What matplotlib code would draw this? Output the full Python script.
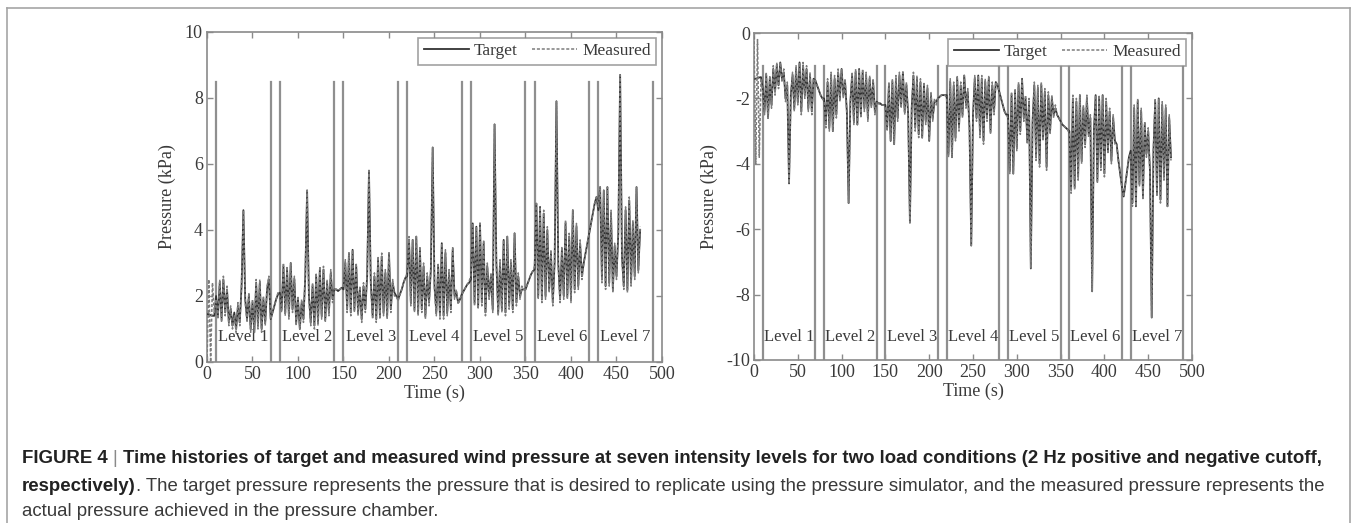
import numpy as np
import matplotlib.pyplot as plt
from matplotlib.lines import Line2D

plt.rcParams["axes.unicode_minus"] = False

# time grid, 2 s steps (0 .. 476 s)
time_s = np.arange(0, 478, 2)

# level boundaries (s) and level names
level_edges = [10, 70, 80, 140, 150, 210, 220, 280, 290, 350, 360, 420, 430, 490]
level_names = ["Level 1", "Level 2", "Level 3", "Level 4", "Level 5", "Level 6", "Level 7"]
level_mid = [40, 110, 180, 250, 320, 390, 460]

# ---- positive cutoff (left panel), kPa ----
pos_tgt_start = [1.45, 1.45, 1.42, 1.40, 1.40]
pos_tgt_lv1 = [2.0, 1.4, 2.4, 1.3, 2.5, 1.5, 2.2, 1.2, 1.6, 1.1,
               1.5, 1.0, 1.7, 1.2, 2.3, 4.6, 1.9, 1.3, 2.0, 1.0,
               1.8, 0.9, 2.4, 1.1, 2.4, 1.0, 1.9, 1.2, 2.2, 2.5,
               1.3, 1.5, 1.7, 1.9, 2.05]
pos_tgt_lv2 = [2.1, 1.6, 2.9, 1.5, 2.8, 1.4, 3.0, 1.6, 2.5, 1.2,
               1.9, 1.0, 1.8, 1.3, 2.6, 5.2, 2.0, 1.2, 2.3, 1.1,
               2.6, 1.2, 2.8, 1.4, 2.8, 1.3, 2.4, 1.5, 2.7, 1.9,
               2.2, 2.2, 2.15, 2.2, 2.25]
pos_tgt_lv3 = [2.2, 3.0, 1.6, 3.3, 1.5, 3.4, 1.6, 2.9, 1.5, 2.2,
               1.3, 2.3, 1.6, 2.6, 5.8, 2.4, 1.4, 2.6, 1.3, 3.1,
               1.4, 3.2, 1.5, 2.7, 1.4, 3.3, 1.6, 2.4, 2.1, 2.0,
               1.9, 2.05, 2.2, 2.4, 2.55]
pos_tgt_lv4 = [2.6, 3.7, 1.8, 3.7, 1.6, 3.8, 1.5, 3.4, 1.6, 2.9,
               1.4, 2.6, 1.8, 2.8, 6.5, 2.3, 1.5, 2.9, 1.4, 3.6,
               1.4, 3.3, 1.5, 2.7, 1.6, 3.4, 2.0, 2.1, 1.8, 1.9,
               2.05, 2.15, 2.25, 2.35, 2.4]
pos_tgt_lv5 = [2.5, 4.2, 1.8, 4.1, 1.7, 4.2, 1.8, 3.6, 1.5, 2.9,
               2.0, 2.6, 1.6, 7.2, 3.0, 1.5, 3.0, 1.6, 3.7, 1.5,
               3.8, 1.7, 3.0, 1.6, 3.9, 1.8, 2.6, 2.0, 2.2, 2.2,
               2.2, 2.35, 2.5, 2.65, 2.75]
pos_tgt_lv6 = [2.8, 4.8, 2.0, 4.7, 1.9, 4.5, 2.0, 4.0, 2.2, 3.3,
               1.8, 3.0, 7.9, 3.0, 1.9, 3.4, 2.0, 4.2, 2.0, 3.8,
               1.9, 4.6, 2.2, 4.1, 2.3, 3.6, 2.6, 3.0, 3.3, 3.6,
               3.9, 4.2, 4.5, 4.8, 5.0]
pos_tgt_lv7 = [4.6, 5.3, 2.5, 5.2, 2.3, 5.3, 2.4, 4.5, 2.2, 3.5,
               2.6, 3.9, 8.7, 3.2, 2.3, 4.6, 2.2, 4.9, 2.4, 4.2,
               2.6, 5.3, 2.8, 4.0]

pos_meas_start = [0.0, 2.5, 0.0, 2.4, 1.5]
pos_meas_lv1 = [1.9, 1.3, 2.5, 1.2, 2.6, 1.4, 2.3, 1.1, 1.7, 1.0,
                1.4, 0.9, 1.8, 1.1, 2.4, 4.6, 1.8, 1.2, 2.1, 0.9,
                1.9, 0.9, 2.5, 1.0, 2.5, 0.9, 2.0, 1.1, 2.3, 2.6,
                1.3, 1.5, 1.7, 1.9, 2.1]
pos_meas_lv2 = [2.0, 1.5, 3.0, 1.4, 2.9, 1.3, 3.0, 1.5, 2.6, 1.1,
                2.0, 1.0, 1.9, 1.2, 2.7, 5.2, 1.9, 1.1, 2.4, 1.0,
                2.7, 1.1, 2.9, 1.3, 2.9, 1.2, 2.5, 1.4, 2.8, 1.8,
                2.2, 2.2, 2.2, 2.2, 2.25]
pos_meas_lv3 = [2.3, 3.1, 1.5, 3.3, 1.4, 3.4, 1.5, 3.0, 1.4, 2.3,
                1.2, 2.4, 1.5, 2.7, 5.8, 2.3, 1.3, 2.7, 1.2, 3.2,
                1.3, 3.3, 1.4, 2.8, 1.3, 3.3, 1.5, 2.5, 2.0, 2.0,
                1.85, 2.05, 2.2, 2.4, 2.55]
pos_meas_lv4 = [2.7, 3.8, 1.7, 3.7, 1.5, 3.8, 1.4, 3.5, 1.5, 3.0,
                1.3, 2.7, 1.7, 2.9, 6.5, 2.2, 1.4, 3.0, 1.3, 3.6,
                1.3, 3.4, 1.4, 2.8, 1.5, 3.5, 1.9, 2.2, 1.75, 1.9,
                2.05, 2.15, 2.25, 2.35, 2.45]
pos_meas_lv5 = [2.6, 4.2, 1.7, 4.1, 1.6, 4.2, 1.7, 3.7, 1.4, 3.0,
                1.9, 2.7, 1.5, 7.2, 2.9, 1.4, 3.1, 1.5, 3.7, 1.4,
                3.8, 1.6, 3.1, 1.5, 3.9, 1.7, 2.7, 1.9, 2.3, 2.2,
                2.2, 2.35, 2.5, 2.65, 2.75]
pos_meas_lv6 = [2.9, 4.8, 1.9, 4.7, 1.8, 4.6, 1.9, 4.1, 2.1, 3.4,
                1.7, 3.1, 7.9, 2.9, 1.8, 3.5, 1.9, 4.3, 1.9, 3.9,
                1.8, 4.6, 2.1, 4.2, 2.2, 3.7, 2.5, 3.0, 3.3, 3.6,
                3.9, 4.2, 4.5, 4.8, 5.0]
pos_meas_lv7 = [4.7, 5.3, 2.4, 5.2, 2.2, 5.3, 2.3, 4.6, 2.1, 3.6,
                2.5, 4.0, 8.7, 3.1, 2.2, 4.7, 2.1, 5.0, 2.3, 4.3,
                2.5, 5.3, 2.7, 4.1]

# ---- negative cutoff (right panel), kPa ----
neg_tgt_start = [-1.4, -1.4, -1.38, -1.36, -1.35]
neg_tgt_lv1 = [-1.7, -2.4, -1.3, -2.6, -1.4, -2.2, -1.1, -1.8, -1.0, -1.6,
               -0.9, -1.4, -1.2, -2.0, -1.6, -4.6, -1.9, -1.3, -2.3, -1.1,
               -2.1, -0.9, -2.4, -1.0, -1.9, -1.1, -2.3, -1.3, -2.4, -1.4,
               -1.45, -1.6, -1.75, -1.9, -2.0]
neg_tgt_lv2 = [-2.0, -2.8, -1.5, -2.9, -1.3, -3.0, -1.4, -2.5, -1.2, -2.0,
               -1.1, -1.9, -1.5, -2.4, -5.2, -2.1, -1.3, -2.7, -1.2, -2.8,
               -1.1, -2.5, -1.2, -2.3, -1.3, -2.6, -1.4, -2.2, -1.5, -2.4,
               -2.1, -2.15, -2.15, -2.2, -2.2]
neg_tgt_lv3 = [-2.2, -2.9, -1.6, -3.3, -1.5, -3.4, -1.4, -2.6, -1.3, -2.2,
               -1.2, -2.4, -1.6, -2.5, -5.8, -2.3, -1.3, -2.9, -1.4, -3.1,
               -1.5, -3.2, -1.6, -2.7, -1.7, -3.3, -1.9, -2.6, -2.1, -2.1,
               -2.0, -1.95, -1.9, -1.9, -1.9]
neg_tgt_lv4 = [-1.9, -3.7, -1.5, -3.8, -1.6, -3.2, -1.4, -2.9, -1.6, -2.5,
               -1.3, -2.2, -1.8, -2.9, -6.5, -2.5, -1.4, -2.6, -1.3, -3.1,
               -1.4, -3.3, -1.5, -2.6, -1.4, -3.0, -1.6, -2.4, -1.5, -1.6,
               -1.8, -2.0, -2.2, -2.4, -2.5]
neg_tgt_lv5 = [-2.5, -4.2, -1.9, -4.3, -1.8, -3.5, -1.6, -3.0, -1.4, -2.6,
               -2.0, -3.3, -2.1, -7.2, -2.7, -1.6, -3.8, -1.7, -4.0, -1.6,
               -3.2, -1.8, -4.1, -1.9, -3.0, -2.0, -2.5, -2.3, -2.5, -2.6,
               -2.7, -2.8, -2.85, -2.9, -2.95]
neg_tgt_lv6 = [-3.0, -4.8, -2.0, -4.7, -2.1, -4.4, -1.9, -3.9, -2.3, -3.4,
               -2.0, -3.1, -2.6, -7.9, -3.0, -1.9, -4.5, -2.0, -4.1, -1.9,
               -4.3, -2.1, -3.6, -2.4, -3.9, -2.6, -3.3, -3.4, -3.9, -4.3,
               -4.7, -5.0, -4.6, -4.2, -3.8]
neg_tgt_lv7 = [-3.6, -5.2, -2.3, -5.3, -2.1, -4.6, -2.4, -5.0, -2.8, -3.7,
               -3.0, -4.2, -8.7, -3.6, -2.1, -4.9, -2.0, -5.1, -2.2, -4.4,
               -2.3, -5.3, -2.6, -3.8]

neg_meas_start = [-0.1, -4.0, -0.2, -3.8, -1.4]
neg_meas_lv1 = [-1.8, -2.5, -1.2, -2.6, -1.3, -2.3, -1.0, -1.9, -0.9, -1.7,
                -0.9, -1.5, -1.1, -2.1, -1.5, -4.6, -2.0, -1.2, -2.4, -1.0,
                -2.2, -0.9, -2.5, -0.9, -2.0, -1.0, -2.4, -1.2, -2.5, -1.4,
                -1.45, -1.6, -1.75, -1.9, -2.0]
neg_meas_lv2 = [-2.1, -2.9, -1.4, -3.0, -1.2, -3.0, -1.3, -2.6, -1.1, -2.1,
                -1.1, -2.0, -1.4, -2.5, -5.2, -2.2, -1.2, -2.8, -1.1, -2.8,
                -1.1, -2.6, -1.1, -2.4, -1.2, -2.7, -1.3, -2.3, -1.4, -2.5,
                -2.1, -2.15, -2.2, -2.2, -2.2]
neg_meas_lv3 = [-2.3, -3.0, -1.5, -3.3, -1.4, -3.4, -1.3, -2.7, -1.2, -2.3,
                -1.2, -2.5, -1.5, -2.6, -5.8, -2.4, -1.2, -3.0, -1.3, -3.2,
                -1.4, -3.2, -1.5, -2.8, -1.6, -3.3, -1.8, -2.7, -2.0, -2.2,
                -2.0, -1.95, -1.9, -1.9, -1.9]
neg_meas_lv4 = [-2.0, -3.8, -1.4, -3.8, -1.5, -3.3, -1.3, -3.0, -1.5, -2.6,
                -1.3, -2.3, -1.7, -3.0, -6.5, -2.6, -1.3, -2.7, -1.3, -3.2,
                -1.3, -3.4, -1.4, -2.7, -1.3, -3.1, -1.5, -2.5, -1.5, -1.6,
                -1.8, -2.0, -2.2, -2.4, -2.5]
neg_meas_lv5 = [-2.6, -4.3, -1.8, -4.3, -1.7, -3.6, -1.5, -3.1, -1.4, -2.7,
                -1.9, -3.4, -2.0, -7.2, -2.8, -1.5, -3.9, -1.6, -4.1, -1.5,
                -3.3, -1.7, -4.2, -1.8, -3.1, -1.9, -2.6, -2.2, -2.5, -2.6,
                -2.7, -2.8, -2.85, -2.9, -2.95]
neg_meas_lv6 = [-3.1, -4.9, -1.9, -4.8, -2.0, -4.5, -1.9, -4.0, -2.2, -3.5,
                -1.9, -3.2, -2.5, -7.9, -3.1, -1.9, -4.6, -1.9, -4.2, -1.9,
                -4.4, -2.0, -3.7, -2.3, -4.0, -2.5, -3.4, -3.4, -3.9, -4.3,
                -4.7, -5.0, -4.6, -4.2, -3.8]
neg_meas_lv7 = [-3.7, -5.3, -2.2, -5.3, -2.0, -4.7, -2.3, -5.1, -2.7, -3.8,
                -2.9, -4.3, -8.7, -3.5, -2.0, -5.0, -2.0, -5.2, -2.1, -4.5,
                -2.2, -5.3, -2.5, -3.9]

pos_target = np.concatenate([pos_tgt_start, pos_tgt_lv1, pos_tgt_lv2, pos_tgt_lv3,
                             pos_tgt_lv4, pos_tgt_lv5, pos_tgt_lv6, pos_tgt_lv7])
pos_measured = np.concatenate([pos_meas_start, pos_meas_lv1, pos_meas_lv2, pos_meas_lv3,
                               pos_meas_lv4, pos_meas_lv5, pos_meas_lv6, pos_meas_lv7])
neg_target = np.concatenate([neg_tgt_start, neg_tgt_lv1, neg_tgt_lv2, neg_tgt_lv3,
                             neg_tgt_lv4, neg_tgt_lv5, neg_tgt_lv6, neg_tgt_lv7])
neg_measured = np.concatenate([neg_meas_start, neg_meas_lv1, neg_meas_lv2, neg_meas_lv3,
                               neg_meas_lv4, neg_meas_lv5, neg_meas_lv6, neg_meas_lv7])

# caption, broken into the three lines of the reference
cap_line1 = ("Time histories of target and measured wind pressure at seven intensity "
             "levels for two load conditions (2 Hz positive and negative cutoff,")
cap_line2_bold = "respectively)"
cap_line2 = (". The target pressure represents the pressure that is desired to replicate "
             "using the pressure simulator, and the measured pressure represents the")
cap_line3 = "actual pressure achieved in the pressure chamber."

serif = "Liberation Serif"
sans = "Liberation Sans"
txt_col = "#3a3a3a"
spine_col = "#8a8a8a"

W, H = 1356, 523
fig = plt.figure(figsize=(W / 100, H / 100), dpi=100)
fig.patch.set_facecolor("white")


def px_axes(x0, y0, x1, y1):
    # pixel box (top-left origin) -> figure fraction
    return [x0 / W, 1 - y1 / H, (x1 - x0) / W, (y1 - y0) / H]


def draw_panel(ax, t, target, measured, ylim, yticks, line_lo, line_hi, label_y):
    ax.plot(t, target, color="#333333", lw=1.3, label="Target", zorder=3)
    ax.plot(t, measured, color="#7c7c7c", lw=1.1, ls=(0, (2, 1.2)), label="Measured", zorder=4)
    for x in level_edges:
        ax.plot([x, x], [line_lo, line_hi], color="#8f8f8f", lw=1.6, zorder=2)
    for name, xm in zip(level_names, level_mid):
        ax.text(xm, label_y, name, ha="center", va="center", fontsize=12,
                family=serif, color=txt_col)
    ax.set_xlim(0, 500)
    ax.set_ylim(*ylim)
    ax.set_xticks(np.arange(0, 501, 50))
    ax.set_yticks(yticks)
    ax.tick_params(direction="in", length=4, width=1, color=spine_col,
                   top=True, right=True, labelsize=13, labelcolor=txt_col, pad=3)
    for lab in ax.get_xticklabels() + ax.get_yticklabels():
        lab.set_family(serif)
    for s in ax.spines.values():
        s.set_color(spine_col)
        s.set_linewidth(1.2)
    ax.set_xlabel("Time (s)", fontsize=13, family=serif, color=txt_col, labelpad=1)
    ax.set_ylabel("Pressure (kPa)", fontsize=13, family=serif, color=txt_col, labelpad=6)
    leg = ax.legend(loc="upper right", ncol=2, frameon=True, fancybox=False,
                    prop={"family": serif, "size": 12.5}, handlelength=2.6,
                    handletextpad=0.3, columnspacing=0.8, borderpad=0.3,
                    borderaxespad=0.35)
    leg.get_frame().set_edgecolor(spine_col)
    leg.get_frame().set_linewidth(1.2)
    for txt in leg.get_texts():
        txt.set_color(txt_col)
    leg.set_zorder(10)


ax1 = fig.add_axes(px_axes(207, 32, 662, 362))
draw_panel(ax1, time_s, pos_target, pos_measured, (0, 10), np.arange(0, 11, 2),
           0, 8.5, 0.75)

ax2 = fig.add_axes(px_axes(754, 33, 1192, 360))
draw_panel(ax2, time_s, neg_target, neg_measured, (-10, 0), np.arange(-10, 1, 2),
           -10, -1.0, -9.3)

# outer frame
frame_col = "#a5a5a5"
fig.add_artist(Line2D([7 / W, 1350 / W], [1 - 8 / H, 1 - 8 / H], color=frame_col, lw=1.2))
fig.add_artist(Line2D([7 / W, 7 / W], [1 - 8 / H, 0], color=frame_col, lw=1.2))
fig.add_artist(Line2D([1350 / W, 1350 / W], [1 - 8 / H, 0], color=frame_col, lw=1.2))

# ---- caption: a few styled pieces per line, set on a common baseline ----
cap_size = 13.4
cap_left = 22
baseline_y = [463, 491, 516]
bold_style = dict(weight="bold", color="#222222")
reg_style = dict(weight="normal", color="#3a3a3a")
bar_style = dict(weight="normal", color="#8a8a8a")

# (text, style, space before)
cap_lines = [
    [("FIGURE 4", bold_style, False), ("|", bar_style, True), (cap_line1, bold_style, True)],
    [(cap_line2_bold, bold_style, False), (cap_line2, reg_style, False)],
    [(cap_line3, reg_style, False)],
]

renderer = fig.canvas.get_renderer()


def piece_width(txt, style):
    t = fig.text(0, 0, txt, fontsize=cap_size, family=sans, **style)
    w = t.get_window_extent(renderer).width
    t.remove()
    return w


space_w = piece_width("a a", bold_style) - piece_width("aa", bold_style)

for li, pieces in enumerate(cap_lines):
    x = cap_left
    y = 1 - baseline_y[li] / H
    for txt, style, sp in pieces:
        if sp:
            x += space_w
        fig.text(x / W, y, txt, fontsize=cap_size, family=sans, va="baseline", **style)
        x += piece_width(txt, style)

fig.savefig("out.png", dpi=100)
